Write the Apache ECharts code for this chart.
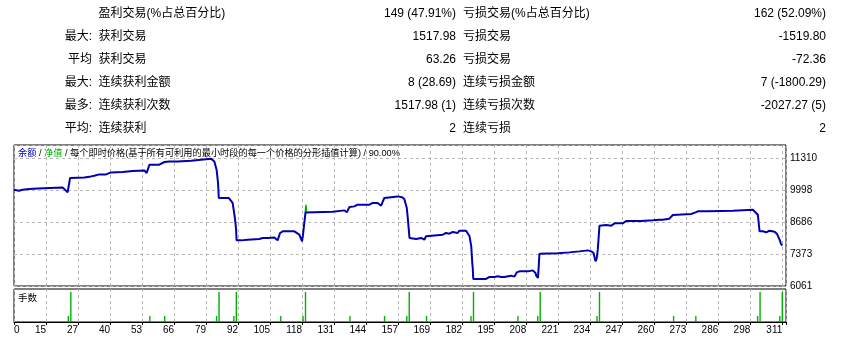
<!DOCTYPE html>
<html>
<head>
<meta charset="utf-8">
<script src="https://cdn.jsdelivr.net/npm/echarts@6/dist/echarts.min.js"></script>
<style>
  html, body { margin: 0; padding: 0; background: #fff; }
  #chart { width: 845px; height: 344px; }
</style>
</head>
<body>
<div id="chart"></div>
<script>
// summary table
const rowHeads = ['', '最大:', '平均', '最大:', '最多:', '平均:'];
const winLabels = ['盈利交易(%占总百分比)', '获利交易', '获利交易', '连续获利金额', '连续获利次数', '连续获利'];
const winValues = ['149 (47.91%)', '1517.98', '63.26', '8 (28.69)', '1517.98 (1)', '2'];
const lossLabels = ['亏损交易(%占总百分比)', '亏损交易', '亏损交易', '连续亏损金额', '连续亏损次数', '连续亏损'];
const lossValues = ['162 (52.09%)', '-1519.80', '-72.36', '7 (-1800.29)', '-2027.27 (5)', '2'];

// axis labels
const xLabels = ['0', '15', '27', '40', '53', '66', '79', '92', '105', '118', '131', '144', '157',
  '169', '182', '195', '208', '221', '234', '247', '260', '273', '286', '298', '311'];
const yLabels = ['6061', '7373', '8686', '9998', '11310'];

// balance per trade number [trade, balance]
const balance = [
  [0, 10010], [2, 9969], [3.5, 10010], [6.2, 10039], [9.6, 10064], [10.2, 10105], [19.7, 10105],
  [20.4, 10064], [21.7, 9900], [22.7, 10490], [28.5, 10515], [29.2, 10556], [31.2, 10556],
  [31.8, 10502], [32.5, 10584], [34.5, 10638], [37.3, 10638], [37.9, 10597], [39.3, 10720],
  [44, 10736], [48, 10777], [52.8, 10802], [53.2, 10777], [53.7, 10695], [54.8, 11035],
  [58.8, 11035], [59.5, 10994], [60.9, 11146], [62.9, 11170], [66.2, 11170], [66.9, 11197],
  [71.7, 11197], [72.3, 11240], [75.7, 11240], [76.4, 11281], [79.8, 11281], [80.4, 11267],
  [81.1, 11170], [82, 10830], [82.6, 10285], [82.9, 9670], [86.9, 9670], [87.5, 9606],
  [88.5, 9465], [88.9, 9200], [89.5, 8780], [89.9, 8370], [90.1, 7932], [91.9, 7932],
  [92.6, 7891], [94.6, 7960], [99.3, 7989], [100.7, 8030], [102.7, 8030], [103.3, 8054],
  [105.4, 8054], [106.7, 7932], [107.7, 8235], [108.8, 8303], [113.5, 8303], [114.2, 8262],
  [115.5, 8165], [116.6, 7891], [116.9, 8098], [118, 9080], [129, 9108], [129.7, 9162],
  [133.8, 9162], [134.7, 9080], [135.8, 9301], [137.8, 9326], [139.1, 9395], [143.9, 9395],
  [145.2, 9465], [147.2, 9465], [147.9, 9395], [148.6, 9354], [149.9, 9670], [150.6, 9736],
  [155.3, 9736], [157.1, 9700], [158, 9629], [159, 9260], [159.4, 8850], [159.8, 8370],
  [160.1, 8030], [160.8, 7989], [162.8, 7989], [163.4, 8030], [164.8, 8030], [165.5, 7960],
  [166.1, 7960], [166.8, 8098], [167.5, 8165], [173.6, 8165], [174.2, 8235], [174.9, 8235],
  [175.6, 8207], [176.3, 8207], [177.6, 8276], [178.3, 8235], [179.6, 8235], [180.3, 8330],
  [183, 8330], [183.7, 8262], [184.4, 8098], [185.1, 7686], [185.5, 7003], [185.7, 6800],
  [185.9, 6349], [191.1, 6349], [191.8, 6390], [192.5, 6431], [194.5, 6431], [195.8, 6458],
  [196.5, 6458], [197.2, 6431], [198.5, 6431], [199.2, 6485], [201.2, 6485], [202.6, 6444],
  [203.5, 6620], [204.6, 6661], [208, 6661], [208.7, 6702], [210, 6702], [210.4, 6661],
  [211.1, 6594], [211.4, 6485], [212.1, 6390], [212.4, 6868], [212.7, 7386], [220.1, 7400],
  [220.8, 7440], [224.8, 7440], [225.6, 7481], [228.9, 7481], [229.6, 7522], [232.3, 7522],
  [232.7, 7550], [233.7, 7481], [234.6, 7413], [235.4, 7071], [235.9, 7208], [236.3, 7550],
  [236.6, 7960], [237, 8536], [237.7, 8563], [239.7, 8563], [240.4, 8536], [241.8, 8536],
  [242.4, 8590], [243.1, 8631], [246.4, 8631], [247.1, 8713], [247.8, 8727], [253.9, 8727],
  [254.5, 8754], [258.6, 8754], [259.3, 8781], [261.3, 8781], [262, 8754], [262.6, 8781],
  [263.3, 8822], [265.3, 8822], [266, 8781], [266.7, 8972], [267.4, 9013], [274.1, 9013],
  [274.8, 8945], [275.9, 9080], [276.8, 9122], [280.9, 9122], [281.6, 9149], [291, 9149],
  [291.7, 9190], [299.1, 9190], [299.8, 9149], [301.1, 8985], [301.8, 8303], [303.1, 8303],
  [304.5, 8262], [305.8, 8330], [307.9, 8290], [308.8, 8207], [309.9, 7960], [310.5, 7782],
  [311, 7713]
];

// equity, only where it shows apart from balance
const equity = [[117.9, 9080], [118.2, 9395], [118.4, 9110]];

// lots per trade
const lotTrades = [22, 23, 55, 61, 82, 83, 89, 90, 108, 117, 118, 136, 150, 159, 160, 167,
  185, 186, 204, 212, 213, 236, 237, 267, 276, 301, 302, 310, 311];
const lotSizes = [0.1, 0.5, 0.1, 0.1, 0.1, 0.5, 0.1, 0.5, 0.1, 0.1, 0.5, 0.1, 0.1, 0.1, 0.5, 0.1,
  0.1, 0.5, 0.1, 0.1, 0.5, 0.1, 0.5, 0.1, 0.1, 0.1, 0.5, 0.1, 0.5];

const xStep = 311 / 24;
const xMax = 312.5;
const yMin = 6061, yStep = 1312.25;
const yTop = 141 / 32; // main panel height in label steps

const FONT = '"Liberation Sans", "Noto Sans CJK SC", sans-serif';
const BLUE = '#0000b0';
const GREEN = '#00b000';

const myChart = echarts.init(document.getElementById('chart'));

let graphics = [];
for (let i = 0; i < rowHeads.length; i++) {
    let y = 14 + i * 22.9;
    let cells = [
        [rowHeads[i], 92, 'right'],
        [winLabels[i], 98.5, 'left'],
        [winValues[i], 456, 'right'],
        [lossLabels[i], 463, 'left'],
        [lossValues[i], 826, 'right']
    ];
    cells.forEach(function (c) {
        graphics.push({
            type: 'text', x: c[1], y: y,
            style: { text: c[0], fill: '#000', fontSize: 12, fontFamily: FONT, align: c[2], verticalAlign: 'middle' }
        });
    });
}
graphics.push({
    type: 'text', x: 18, y: 153, z: 10,
    style: {
        text: '{b|余额} / {g|净值} / 每个即时价格(基于所有可利用的最小时段的每一个价格的分形插值计算) / 90.00%',
        fill: '#000', fontSize: 9.2, fontFamily: FONT, verticalAlign: 'middle',
        rich: { b: { fill: BLUE, fontSize: 9.2, fontFamily: FONT }, g: { fill: GREEN, fontSize: 9.2, fontFamily: FONT } }
    }
});
graphics.push({
    type: 'text', x: 18, y: 298, z: 10,
    style: { text: '手数', fill: '#000', fontSize: 9.5, fontFamily: FONT, verticalAlign: 'middle' }
});

const dashed = { show: true, lineStyle: { color: '#b8b8b8', type: [3, 3], width: 1 } };

let option = {
    animation: false,
    backgroundColor: '#fff',
    graphic: graphics,
    grid: [
        { left: 14, top: 145, width: 772, height: 141, show: true, borderColor: '#000', borderWidth: 1, backgroundColor: 'transparent' },
        { left: 14, top: 289, width: 772, height: 33, show: true, borderColor: '#000', borderWidth: 1, backgroundColor: 'transparent' }
    ],
    xAxis: [
        {
            type: 'value', gridIndex: 0, min: 0, max: xMax, interval: xStep,
            axisLine: { show: false }, axisTick: { show: false }, axisLabel: { show: false },
            splitLine: dashed
        },
        {
            type: 'value', gridIndex: 1, min: 0, max: xMax, interval: xStep,
            axisLine: { show: true, onZero: false, lineStyle: { color: '#000' } },
            axisTick: { show: true, length: 3, lineStyle: { color: '#000' } },
            axisLabel: {
                show: true, interval: 0, margin: 3, color: '#000', fontSize: 10, fontFamily: FONT,
                align: 'right', alignMinLabel: 'left', showMinLabel: true, showMaxLabel: true,
                formatter: function (v) {
                    let k = Math.round(v / xStep);
                    if (Math.abs(v - k * xStep) > 0.01) return '';
                    return xLabels[k] || '';
                }
            },
            splitLine: dashed
        }
    ],
    yAxis: [
        {
            type: 'value', gridIndex: 0, min: yMin, max: yMin + yTop * yStep,
            axisLine: { show: false }, axisTick: { show: false }, axisLabel: { show: false },
            splitLine: { show: false }
        },
        {
            type: 'value', gridIndex: 0, position: 'right', min: 0, max: yTop, interval: 1,
            axisLine: { show: false }, axisTick: { show: false },
            axisLabel: {
                show: true, margin: 4, color: '#000', fontSize: 10, fontFamily: FONT,
                showMinLabel: true, showMaxLabel: true,
                formatter: function (v) {
                    let k = Math.round(v);
                    if (Math.abs(v - k) > 0.001) return '';
                    return yLabels[k] || '';
                }
            },
            splitLine: dashed
        },
        {
            type: 'value', gridIndex: 1, min: 0, max: 0.55,
            axisLine: { show: false }, axisTick: { show: false }, axisLabel: { show: false },
            splitLine: { show: false }
        }
    ],
    series: [
        {
            name: '净值', type: 'line', xAxisIndex: 0, yAxisIndex: 0, data: equity,
            symbol: 'none', lineStyle: { color: GREEN, width: 1.5 }, z: 3
        },
        {
            name: '余额', type: 'line', xAxisIndex: 0, yAxisIndex: 0, data: balance,
            symbol: 'none', lineStyle: { color: BLUE, width: 2 }, z: 4
        },
        {
            name: '手数', type: 'bar', xAxisIndex: 1, yAxisIndex: 2,
            data: lotTrades.map(function (t, i) { return [t, lotSizes[i]]; }),
            barWidth: 1.4, itemStyle: { color: GREEN }
        }
    ]
};
myChart.setOption(option);
</script>
</body>
</html>
